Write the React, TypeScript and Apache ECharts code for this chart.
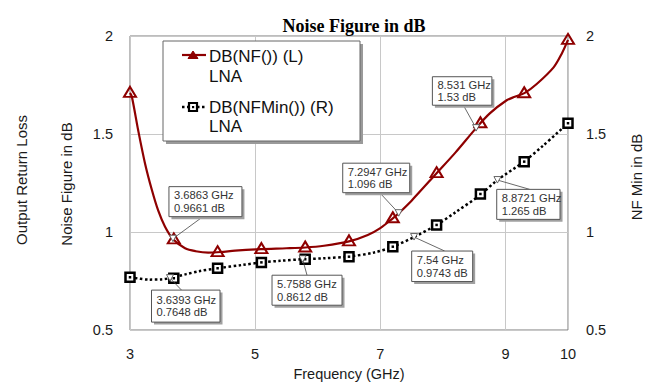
import React, { useEffect, useRef } from "react";
import * as echarts from "echarts";

// ---------- data ----------
const xTickValues = [3, 5, 7, 9, 10];

// DB(NF()) LNA  (left axis) — curve trace
const nfCurve: [number, number][] = [
  [3.0, 1.71], [3.03, 1.69], [3.13, 1.52], [3.24, 1.35], [3.35, 1.214],
  [3.45, 1.11], [3.56, 1.027], [3.69, 0.963], [3.88, 0.917], [4.05, 0.902],
  [4.25, 0.895], [4.45, 0.898], [4.68, 0.905], [5.09, 0.913], [5.5, 0.917],
  [5.8, 0.921], [6.1, 0.93], [6.5, 0.952], [6.8, 0.985], [7.0, 1.02],
  [7.2, 1.07], [7.2947, 1.096], [7.5, 1.16], [7.9, 1.3], [8.2, 1.405],
  [8.531, 1.53], [8.75, 1.605], [9.02, 1.672], [9.15, 1.69], [9.31, 1.71],
  [9.5, 1.755], [9.77, 1.84], [9.9, 1.91], [10.0, 1.98],
];
const nfMarkers: [number, number][] = [
  [3.0, 1.71], [3.7, 0.962], [4.4, 0.897], [5.1, 0.913], [5.8, 0.921],
  [6.5, 0.952], [7.2, 1.07], [7.9, 1.3], [8.6, 1.555], [9.3, 1.708], [10.0, 1.98],
];

// DB(NFMin()) LNA (right axis)
const nfMinCurve: [number, number][] = [
  [3.0, 0.77], [3.3, 0.757], [3.5, 0.758], [3.6393, 0.7648], [3.9, 0.785],
  [4.1, 0.8], [4.4, 0.815], [4.8, 0.832], [5.1, 0.845], [5.4, 0.853],
  [5.7588, 0.8612], [6.1, 0.866], [6.5, 0.875], [6.9, 0.895], [7.2, 0.925],
  [7.54, 0.9743], [7.9, 1.036], [8.2, 1.1], [8.6, 1.19], [8.8721, 1.265],
  [9.3, 1.36], [9.6, 1.44], [10.0, 1.555],
];
const nfMinMarkers: [number, number][] = [
  [3.0, 0.769], [3.7, 0.764], [4.4, 0.815], [5.1, 0.845], [5.8, 0.861],
  [6.5, 0.874], [7.2, 0.925], [7.9, 1.036], [8.6, 1.194], [9.3, 1.359], [10.0, 1.555],
];

// marker annotations: frequency (GHz), value (dB), y axis index
const annFreq = [3.6863, 3.6393, 5.7588, 7.2947, 8.531, 7.54, 8.8721];
const annValue = [0.9661, 0.7648, 0.8612, 1.096, 1.53, 0.9743, 1.265];
const annAxis = [0, 1, 1, 0, 0, 1, 1];
const annFreqText = ["3.6863 GHz", "3.6393 GHz", "5.7588 GHz", "7.2947 GHz", "8.531 GHz", "7.54 GHz", "8.8721 GHz"];
const annValueText = ["0.9661 dB", "0.7648 dB", "0.8612 dB", "1.096 dB", "1.53 dB", "0.9743 dB", "1.265 dB"];

// layout of the annotation boxes relative to their point (styling only)
const annLayout = [
  { dx: -4, dy: -52, w: 73, h: 30, lx: 34, ly: 30 },
  { dx: -18.5, dy: 12, w: 68.5, h: 32, lx: 30, ly: 0 },
  { dx: -30.6, dy: 16, w: 70, h: 30, lx: 35, ly: 0 },
  { dx: -56, dy: -50, w: 67, h: 29.5, lx: 37, ly: 29.5 },
  { dx: -43.7, dy: -51.4, w: 59.5, h: 28.5, lx: 31, ly: 28.5 },
  { dx: -2.4, dy: 14, w: 61, h: 30.5, lx: 33, ly: 0 },
  { dx: -0.7, dy: 9.3, w: 63.3, h: 30, lx: 33, ly: 0 },
];

const NF_COLOR = "#8e0000";
const SANS = "'Liberation Sans', Arial, sans-serif";

export default function App() {
  const ref = useRef<HTMLDivElement>(null);

  useEffect(() => {
    if (!ref.current) return;
    const chart = echarts.init(ref.current, null, { renderer: "svg" });

    const yAxisBase = {
      type: "value" as const,
      min: 0.5,
      max: 2,
      interval: 0.5,
      axisLine: { show: false },
      axisTick: { show: false },
      axisLabel: { color: "#1a1a1a", fontSize: 14.5, fontFamily: SANS },
    };

    chart.setOption({
      animation: false,
      backgroundColor: "#ffffff",
      title: {
        text: "Noise Figure in dB",
        left: 349,
        top: 12,
        textAlign: "center",
        textStyle: {
          fontFamily: "'Liberation Serif', 'Times New Roman', serif",
          fontWeight: "bold",
          fontSize: 18,
          color: "#000",
        },
      },
      grid: {
        left: 130,
        right: 81,
        top: 36,
        bottom: 53,
        show: true,
        borderColor: "#7a7a7a",
        borderWidth: 1,
        backgroundColor: "transparent",
        containLabel: false,
        outerBoundsMode: "none",
      },
      xAxis: {
        type: "value",
        min: 3,
        max: 10,
        name: "Frequency (GHz)",
        nameLocation: "middle",
        nameGap: 36,
        nameTextStyle: { color: "#1a1a1a", fontSize: 14.5, fontFamily: SANS },
        axisLine: { show: false },
        axisTick: { show: false, customValues: xTickValues },
        axisLabel: {
          customValues: xTickValues,
          color: "#1a1a1a",
          fontSize: 14.5,
          fontFamily: SANS,
          margin: 16,
        },
        splitLine: { show: true, lineStyle: { color: "#c8c8c8", width: 1 } },
      },
      yAxis: [
        {
          ...yAxisBase,
          position: "left",
          axisLabel: { ...yAxisBase.axisLabel, margin: 17 },
          splitLine: { show: true, lineStyle: { color: "#c8c8c8", width: 1 } },
        },
        {
          ...yAxisBase,
          position: "right",
          axisLabel: { ...yAxisBase.axisLabel, margin: 18 },
          splitLine: { show: false },
        },
      ],
      series: [
        {
          name: "DB(NFMin()) (R) LNA",
          type: "line",
          yAxisIndex: 1,
          data: nfMinCurve,
          smooth: 0.3,
          showSymbol: false,
          lineStyle: { color: "#000", width: 2.5, type: [2.5, 2.5], cap: "butt" },
          z: 2,
        },
        {
          name: "nfmin-markers",
          type: "scatter",
          yAxisIndex: 1,
          data: nfMinMarkers,
          symbol: "rect",
          symbolSize: 9,
          itemStyle: { color: "#fff", borderColor: "#000", borderWidth: 2.5, opacity: 1 },
          clip: true,
          z: 3,
        },
        {
          name: "nfmin-dots",
          type: "scatter",
          yAxisIndex: 1,
          data: nfMinMarkers,
          symbol: "rect",
          symbolSize: 2.5,
          itemStyle: { color: "#000", opacity: 1 },
          clip: true,
          z: 4,
        },
        {
          name: "DB(NF()) (L) LNA",
          type: "line",
          yAxisIndex: 0,
          data: nfCurve,
          smooth: 0.3,
          showSymbol: false,
          lineStyle: { color: NF_COLOR, width: 2.2 },
          z: 5,
        },
        {
          name: "nf-markers",
          type: "scatter",
          yAxisIndex: 0,
          data: nfMarkers,
          symbol: "triangle",
          symbolSize: [12, 10],
          symbolOffset: [0, -1],
          itemStyle: { color: "rgba(255,255,255,0)", borderColor: NF_COLOR, borderWidth: 2, opacity: 1 },
          clip: true,
          z: 6,
        },
      ],
    });

    // ----- graphics: legend, axis titles, marker annotations -----
    const graphics: any[] = [];

    // axis titles
    const vtitle = (text: string, x: number, y: number) => ({
      type: "text",
      x,
      y,
      rotation: Math.PI / 2,
      style: {
        text,
        fill: "#1a1a1a",
        fontSize: 15,
        fontFamily: SANS,
        align: "center",
        verticalAlign: "middle",
      },
      z: 10,
    });
    graphics.push(vtitle("Output Return Loss", 21, 180));
    graphics.push(vtitle("Noise Figure in dB", 66, 184));
    graphics.push(vtitle("NF Min in dB", 636, 177));

    // legend box
    const lx = 163, ly = 41, lw = 197, lh = 100;
    graphics.push({ type: "rect", shape: { x: lx + 3, y: ly + 3, width: lw, height: lh }, style: { fill: "#9a9a9a" }, z: 20 });
    graphics.push({ type: "rect", shape: { x: lx, y: ly, width: lw, height: lh }, style: { fill: "#fff", stroke: "#666", lineWidth: 1 }, z: 21 });
    graphics.push({ type: "line", shape: { x1: 182, y1: 55, x2: 206, y2: 55 }, style: { stroke: NF_COLOR, lineWidth: 2.2 }, z: 22 });
    graphics.push({ type: "polygon", shape: { points: [[188, 58.5], [198, 58.5], [193, 51]] }, style: { fill: NF_COLOR, stroke: NF_COLOR, lineWidth: 1 }, z: 23 });
    graphics.push({ type: "line", shape: { x1: 182, y1: 107, x2: 206, y2: 107 }, style: { stroke: "#000", lineWidth: 2.5, lineDash: [2.5, 2.5] }, z: 22 });
    graphics.push({ type: "rect", shape: { x: 189, y: 103, width: 8, height: 8 }, style: { fill: "#fff", stroke: "#000", lineWidth: 2.2 }, z: 23 });
    graphics.push({ type: "rect", shape: { x: 192, y: 106, width: 2.2, height: 2.2 }, style: { fill: "#000" }, z: 24 });
    const legendText = (text: string, y: number) => ({
      type: "text",
      x: 209,
      y,
      style: { text, fill: "#111", fontSize: 17, fontFamily: SANS, align: "left", verticalAlign: "middle" },
      z: 24,
    });
    graphics.push(legendText("DB(NF()) (L)", 56));
    graphics.push(legendText("LNA", 76.5));
    graphics.push(legendText("DB(NFMin()) (R)", 107));
    graphics.push(legendText("LNA", 126));

    // annotations
    annFreq.forEach((f, i) => {
      const p = chart.convertToPixel({ xAxisIndex: 0, yAxisIndex: annAxis[i] }, [f, annValue[i]]) as number[];
      const L = annLayout[i];
      const bx = p[0] + L.dx;
      const by = p[1] + L.dy;
      graphics.push({
        type: "line",
        shape: { x1: bx + L.lx, y1: by + L.ly, x2: p[0], y2: p[1] },
        style: { stroke: "#444", lineWidth: 0.8 },
        z: 30,
      });
      graphics.push({
        type: "polygon",
        shape: { points: [[p[0] - 3.5, p[1] - 3.5], [p[0] + 3.5, p[1] - 3.5], [p[0], p[1] + 3]] },
        style: { fill: "#fff", stroke: "#555", lineWidth: 0.9 },
        z: 31,
      });
      graphics.push({ type: "rect", shape: { x: bx + 2.5, y: by + 2.5, width: L.w, height: L.h }, style: { fill: "#a0a0a0" }, z: 32 });
      graphics.push({ type: "rect", shape: { x: bx, y: by, width: L.w, height: L.h }, style: { fill: "#fff", stroke: "#555", lineWidth: 1 }, z: 33 });
      graphics.push({
        type: "text",
        x: bx + 5,
        y: by + L.h / 2,
        style: {
          text: annFreqText[i] + "\n" + annValueText[i],
          fill: "#333",
          fontSize: 11.2,
          lineHeight: 12.7,
          fontFamily: SANS,
          align: "left",
          verticalAlign: "middle",
        },
        z: 34,
      });
    });

    chart.setOption({ graphic: graphics });

    return () => chart.dispose();
  }, []);

  return (
    <div
      ref={ref}
      style={{ position: "fixed", left: 0, top: 0, width: 649, height: 383, background: "#fff" }}
    />
  );
}
